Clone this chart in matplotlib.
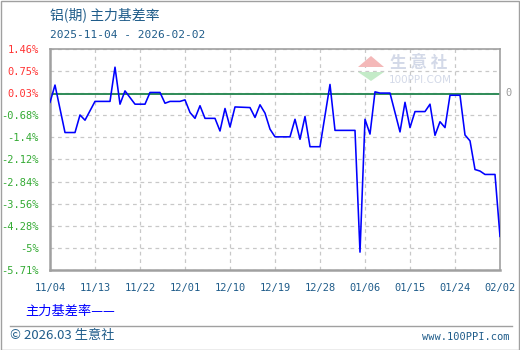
import matplotlib
matplotlib.use("Agg")
import matplotlib.pyplot as plt
from matplotlib.patches import Polygon, Rectangle
from matplotlib.lines import Line2D
import datetime as dt

plt.rcParams['font.family'] = ['Noto Sans CJK SC', 'DejaVu Sans']

# ---- data ----
start_date = "2025-11-04"
day_offsets = [0, 1, 3, 5, 6, 7, 9, 12, 13, 14, 15, 17, 19, 20, 22, 23, 24, 26, 27,
               28, 29, 30, 31, 33, 34, 35, 36, 37, 40, 41, 42, 43, 44, 45, 48, 49,
               50, 51, 52, 54, 56, 57, 61, 62, 63, 64, 65, 66, 68, 70, 71, 72, 73,
               75, 76, 77, 78, 79, 80, 82, 83, 84, 85, 86, 87, 89, 90]
basis_rate = [-0.27, 0.29, -1.25, -1.25, -0.68, -0.85, -0.24, -0.24, 0.87, -0.33, 0.10,
              -0.33, -0.33, 0.05, 0.05, -0.30, -0.24, -0.24, -0.19,
              -0.60, -0.79, -0.38, -0.79, -0.79, -1.20, -0.47, -1.07, -0.42, -0.44,
              -0.76, -0.35, -0.62, -1.14, -1.39, -1.39, -0.82,
              -1.47, -0.73, -1.71, -1.71, 0.31, -1.18, -1.18, -5.13, -0.82, -1.30,
              0.07, 0.03, 0.03, -1.23, -0.27, -1.09, -0.57,
              -0.57, -0.33, -1.34, -0.90, -1.09, -0.04, -0.04, -1.33, -1.52, -2.45,
              -2.50, -2.61, -2.61, -4.62]
y_ticks = [1.46, 0.75, 0.03, -0.68, -1.4, -2.12, -2.84, -3.56, -4.28, -5, -5.71]
y_tick_labels = ["1.46%", "0.75%", "0.03%", "-0.68%", "-1.4%", "-2.12%", "-2.84%",
                 "-3.56%", "-4.28%", "-5%", "-5.71%"]
x_tick_labels = ["11/04", "11/13", "11/22", "12/01", "12/10", "12/19", "12/28",
                 "01/06", "01/15", "01/24", "02/02"]
title = "铝(期) 主力基差率"
subtitle = "2025-11-04 - 2026-02-02"
legend_label = "主力基差率——"

# ---- figure ----
W, H = 520, 350
fig = plt.figure(figsize=(W / 100, H / 100), dpi=100)
fig.patch.set_facecolor("white")

def fx(px):
    return px / W

def fy(py):
    return 1 - py / H

ax = fig.add_axes([fx(50), fy(270), fx(500) - fx(50), fy(49) - fy(270)])

d0 = dt.datetime.strptime(start_date, "%Y-%m-%d")
dates = [d0 + dt.timedelta(days=d) for d in day_offsets]
tick_dates = [d0 + dt.timedelta(days=9 * i) for i in range(len(x_tick_labels))]

ax.axhline(0, color="#2e8b57", lw=1.4, zorder=2)
ax.plot(dates, basis_rate, color="#0000ff", lw=1.15, zorder=3)

ax.set_xlim(tick_dates[0], tick_dates[-1])
ax.set_ylim(y_ticks[-1], y_ticks[0])
ax.set_xticks(tick_dates)
ax.set_xticklabels(x_tick_labels)
ax.set_yticks(y_ticks)
ax.set_yticklabels(y_tick_labels)

ax.grid(True, color="#c8c8c8", linestyle=(0, (3, 3)), lw=0.9)
for s in ax.spines.values():
    s.set_color("#a0a0a0")
    s.set_linewidth(1.2)
ax.spines['left'].set_linewidth(1.8)
ax.spines['bottom'].set_linewidth(1.8)
ax.tick_params(axis="both", length=0)
ax.tick_params(axis="y", pad=8)
ax.tick_params(axis="x", pad=9)
for lbl, v in zip(ax.get_yticklabels(), y_ticks):
    lbl.set_color("#ff3333" if v > 0 else "#33aa33")
    lbl.set_fontfamily(["DejaVu Sans Mono"])
    lbl.set_fontsize(7.5)
for lbl in ax.get_xticklabels():
    lbl.set_color("#1f5c8a")
    lbl.set_fontfamily(["DejaVu Sans Mono"])
    lbl.set_fontsize(7.5)

# zero label on the right
fig.text(fx(508), fy(93), "0", color="#999999", fontsize=7.5,
         family=["DejaVu Sans Mono"], ha="center", va="center")

# watermark
wm_red = Polygon([[fx(358), fy(67)], [fx(371), fy(56)], [fx(384), fy(67)]],
                 closed=True, transform=fig.transFigure, facecolor="#f4b8b8",
                 edgecolor="none", zorder=0.5)
wm_green = Polygon([[fx(358), fy(72)], [fx(371), fy(81)], [fx(384), fy(72)]],
                   closed=True, transform=fig.transFigure, facecolor="#c4ebc8",
                   edgecolor="none", zorder=0.5)
fig.patches.extend([wm_red, wm_green])
fig.text(fx(419), fy(63), "生 意 社", color="#d3d9e8", fontsize=12,
         ha="center", va="center", fontweight="bold", zorder=0.5)
fig.text(fx(420), fy(80), "100PPI.COM", color="#d3d9e8", fontsize=7.5,
         ha="center", va="center", family=["DejaVu Sans"], zorder=0.5)

# titles
fig.text(fx(50), fy(15), title, color="#1f5c8a", fontsize=10, ha="left", va="center")
fig.text(fx(50), fy(35), subtitle, color="#1f5c8a", fontsize=8,
         family=["DejaVu Sans Mono"], ha="left", va="center")

# legend
fig.text(fx(25), fy(311), legend_label, color="#0000ff", fontsize=9.5,
         ha="left", va="center")

# footer
fig.lines.append(Line2D([fx(10), fx(512)], [fy(326), fy(326)],
                        transform=fig.transFigure, color="#a0a0a0", lw=1))
fig.text(fx(10), fy(336), "© 2026.03 生意社", color="#1f5c8a", fontsize=9.5,
         ha="left", va="center")
fig.text(fx(510), fy(337), "www.100PPI.com", color="#1f5c8a", fontsize=7.5,
         family=["DejaVu Sans Mono"], ha="right", va="center")

# outer border
fig.patches.append(Rectangle((0.5 / W, 0.5 / H), 1 - 1.5 / W, 1 - 1.5 / H,
                             transform=fig.transFigure, fill=False,
                             edgecolor="#a0a0a0", lw=1))

fig.savefig("out.png", dpi=100)
